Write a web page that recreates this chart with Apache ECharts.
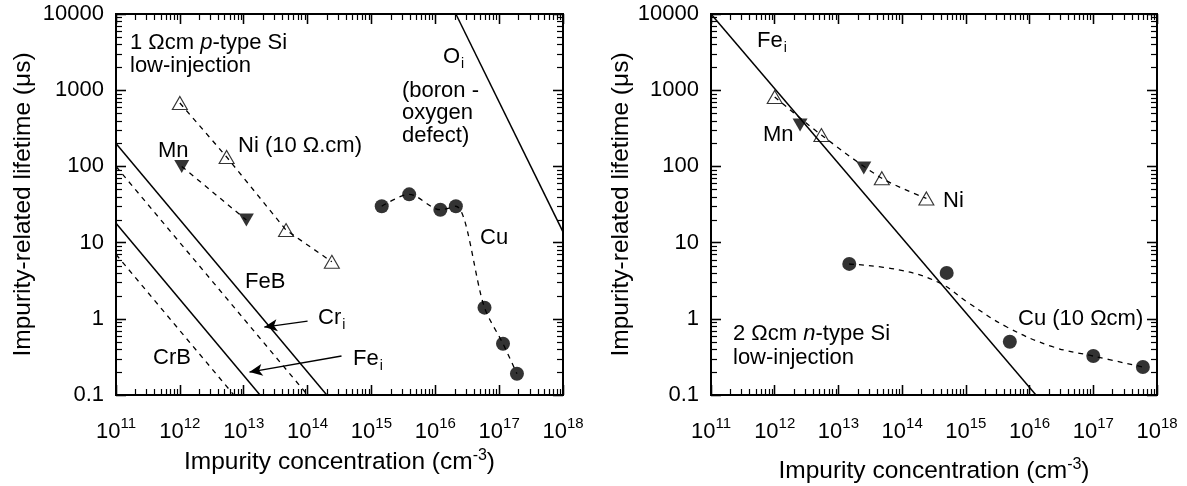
<!DOCTYPE html>
<html><head><meta charset="utf-8">
<script src="https://cdn.jsdelivr.net/npm/echarts@6/dist/echarts.min.js"></script>
<style>html,body{margin:0;padding:0;background:#fff}.c{position:absolute;left:0;top:0;width:1187px;height:486px}</style>
</head><body><div class="c" id="c"></div><div class="c" id="t"></div>
<script>
// ---------- data ----------
const xTickExponents = [11, 12, 13, 14, 15, 16, 17, 18];
const yTickLabels = ['0.1', '1', '10', '100', '1000', '10000'];

// left panel: 1 Ωcm p-type Si
const pNi = [[1e12, 680], [5.4e12, 133], [4.6e13, 14.6], [2.4e14, 5.6]];
const pMn = [[1.07e12, 100], [1.1e13, 19.8]];
const pCu = [[1.45e15, 30], [3.9e15, 43], [1.2e16, 27], [2.1e16, 30], [5.9e16, 1.4], [1.15e17, 0.47], [1.9e17, 0.19]];
const pFeB = [[1e11, 200], [2e14, 0.1]];
const pCri = [[1e11, 100], [1e14, 0.1]];
const pFei = [[1e11, 18], [1.8e13, 0.1]];
const pCrB = [[1e11, 7], [7e12, 0.1]];
const pOi = [[2.1e16, 10000], [1e18, 13.8]];

// right panel: 2 Ωcm n-type Si
const nFei = [[1e11, 10000], [1.26e16, 0.1]];
const nNi = [[1e12, 815], [5.4e12, 258], [4.8e13, 70], [2.4e14, 38]];
const nMn = [[2.5e12, 350], [2.5e13, 95]];
const nCu = [[1.48e13, 5.25], [5e14, 4.0], [4.9e15, 0.5], [1e17, 0.325], [6e17, 0.233]];
const nCuFit = [[1.47e13, 5.24], [9.3e13, 4.36], [3.9e14, 2.95], [1.05e15, 1.66], [4.4e15, 0.78], [2.3e16, 0.43], [9.9e16, 0.325], [6.05e17, 0.233]];

// annotation arrows (data coords)
const arrowCri = [[1e14, 0.935], [2.1e13, 0.78]];
const arrowFei = [[3.4e14, 0.325], [1.23e13, 0.2]];

// ---------- helpers ----------
const FONT = '"Liberation Sans", Arial, Helvetica, sans-serif';
const GRIDS = () => [
  { left: 116, top: 14, width: 447, height: 381, outerBoundsMode: 'none', containLabel: false },
  { left: 711, top: 14, width: 446, height: 381, outerBoundsMode: 'none', containLabel: false }
];
function makeMinor() {
  const arr = [];
  for (let d = xTickExponents[0]; d < xTickExponents[xTickExponents.length - 1]; d++)
    for (let m = 2; m <= 9; m++) arr.push([m * Math.pow(10, d), 1, 0]);
  for (let d = -1; d < 4; d++)
    for (let m = 2; m <= 9; m++) arr.push([1e12, m * Math.pow(10, d), 1]);
  return arr;
}
function renderMinor(params, api) {
  const cs = params.coordSys;
  const kind = api.value(2);
  const L = 6;
  if (kind === 0) {
    const p = api.coord([api.value(0), 1]);
    const x = Math.round(p[0]) + 0.5;
    return { type: 'group', children: [
      { type: 'line', shape: { x1: x, y1: cs.y + cs.height, x2: x, y2: cs.y + cs.height - L }, style: { stroke: '#000', lineWidth: 1.2 } },
      { type: 'line', shape: { x1: x, y1: cs.y, x2: x, y2: cs.y + L }, style: { stroke: '#000', lineWidth: 1.2 } }
    ] };
  } else {
    const p = api.coord([1e12, api.value(1)]);
    const y = Math.round(p[1]) + 0.5;
    return { type: 'group', children: [
      { type: 'line', shape: { x1: cs.x, y1: y, x2: cs.x + L, y2: y }, style: { stroke: '#000', lineWidth: 1.2 } },
      { type: 'line', shape: { x1: cs.x + cs.width, y1: y, x2: cs.x + cs.width - L, y2: y }, style: { stroke: '#000', lineWidth: 1.2 } }
    ] };
  }
}
const axLine = () => ({ show: true, lineStyle: { color: '#000', width: 2 } });
const axTick = () => ({ show: true, inside: true, length: 10, lineStyle: { color: '#000', width: 1.3 } });

// ---------- main chart: labels, names, data ----------
function xAxesFor(gi, nameGap) {
  return [
    { type: 'log', logBase: 10, min: 1e11, max: 1e18, gridIndex: gi, position: 'bottom',
      splitLine: { show: false }, axisLine: axLine(), axisTick: axTick(),
      axisLabel: { margin: 21,
        formatter: v => '{b|10}{s|' + xTickExponents[Math.round(Math.log10(v)) - 11] + '}',
        rich: { b: { fontSize: 22, fontFamily: FONT, color: '#000' },
                s: { fontSize: 15, fontFamily: FONT, color: '#000', padding: [0, 0, 17, 0] } } },
      name: 'Impurity concentration (cm{sup|-3})', nameLocation: 'middle', nameGap,
      nameTextStyle: { fontSize: 24.5, fontFamily: FONT, color: '#000',
        rich: { sup: { fontSize: 16, fontFamily: FONT, color: '#000', padding: [0, 0, 12, 0] } } } },
    { type: 'log', logBase: 10, min: 1e11, max: 1e18, gridIndex: gi, position: 'top',
      splitLine: { show: false }, axisLine: axLine(), axisTick: axTick(), axisLabel: { show: false } }
  ];
}
function yAxesFor(gi, nameGap) {
  return [
    { type: 'log', logBase: 10, min: 0.1, max: 10000, gridIndex: gi, position: 'left',
      splitLine: { show: false }, axisLine: axLine(), axisTick: axTick(),
      axisLabel: { margin: 12, fontSize: 22, fontFamily: FONT, color: '#000',
        formatter: v => yTickLabels[Math.round(Math.log10(v)) + 1] },
      name: 'Impurity-related lifetime (\u03bcs)', nameLocation: 'middle', nameGap,
      nameTextStyle: { fontSize: 24.5, fontFamily: FONT, color: '#000' } },
    { type: 'log', logBase: 10, min: 0.1, max: 10000, gridIndex: gi, position: 'right',
      splitLine: { show: false }, axisLine: axLine(), axisTick: axTick(), axisLabel: { show: false } }
  ];
}
const solid = () => ({ color: '#000', width: 1.5, type: 'solid' });
const dashed = () => ({ color: '#000', width: 1.3, type: [5, 5] });
function lineS(data, gi, style, extra) {
  return Object.assign({ type: 'line', data, xAxisIndex: gi * 2, yAxisIndex: gi * 2,
    showSymbol: false, symbol: 'none', lineStyle: style, itemStyle: { color: '#000' } }, extra || {});
}
function markerS(data, gi, kind) {
  const base = { type: 'scatter', data, xAxisIndex: gi * 2, yAxisIndex: gi * 2 };
  if (kind === 'open') return Object.assign(base, { symbol: 'triangle', symbolSize: [15, 13],
    itemStyle: { color: '#fff', borderColor: '#000', borderWidth: 1.1 } });
  if (kind === 'down') return Object.assign(base, { symbol: 'triangle', symbolRotate: 180, symbolSize: [15, 13],
    itemStyle: { color: '#000' } });
  return Object.assign(base, { symbol: 'circle', symbolSize: 14, itemStyle: { color: '#000' } });
}
function arrowS(pts, gi) {
  return { type: 'line', data: [], xAxisIndex: gi * 2, yAxisIndex: gi * 2,
    markLine: { silent: true, animation: false, symbol: ['none', 'arrow'], symbolSize: [9, 13],
      label: { show: false }, lineStyle: { color: '#000', width: 1.3, type: 'solid' },
      data: [[{ coord: pts[0] }, { coord: pts[1] }]] } };
}
function txt(x, y, text, rich, extra) {
  return { type: 'text', x, y, silent: true,
    style: Object.assign({ text, fontSize: 22, fontFamily: FONT, fill: '#000', align: 'left', verticalAlign: 'middle',
      rich: rich || {} }, extra || {}) };
}
const itRich = { it: { fontStyle: 'italic', fontSize: 22, fontFamily: FONT } };
const subRich = { m: { fontSize: 22, fontFamily: FONT }, i: { fontSize: 14, fontFamily: FONT, padding: [14, 0, 0, 1] } };

const chart = echarts.init(document.getElementById('c'));
chart.setOption({
  animation: false,
  grid: GRIDS(),
  xAxis: [...xAxesFor(0, 53), ...xAxesFor(1, 62)],
  yAxis: [...yAxesFor(0, 80), ...yAxesFor(1, 76)],
  series: [
    lineS(pFeB, 0, solid()), lineS(pCri, 0, dashed()), lineS(pFei, 0, solid()), lineS(pCrB, 0, dashed()), lineS(pOi, 0, solid()),
    lineS(pNi, 0, dashed()), lineS(pMn, 0, dashed()), lineS(pCu, 0, dashed(), { smooth: 0.3 }),
    markerS(pNi, 0, 'open'), markerS(pMn, 0, 'down'), markerS(pCu, 0, 'circle'),
    arrowS(arrowCri, 0), arrowS(arrowFei, 0),
    lineS(nFei, 1, solid()), lineS(nNi, 1, dashed(), { smooth: 0.3 }), lineS(nCuFit, 1, dashed(), { smooth: 0.4 }),
    markerS(nNi, 1, 'open'), markerS(nMn, 1, 'down'), markerS(nCu, 1, 'circle')
  ],
  graphic: [
    txt(130, 43, '1 \u03a9cm {it|p}-type Si', itRich),
    txt(130, 66, 'low-injection'),
    txt(158, 151, 'Mn'),
    txt(238, 146, 'Ni (10 \u03a9.cm)'),
    txt(443, 57, '{m|O}{i|i}', subRich),
    txt(402, 113, '(boron -\noxygen\ndefect)', null, { lineHeight: 22.5 }),
    txt(245, 282, 'FeB'),
    txt(153, 358, 'CrB'),
    txt(318, 318, '{m|Cr}{i|i}', subRich),
    txt(353, 359, '{m|Fe}{i|i}', subRich),
    txt(480, 238, 'Cu'),
    txt(757, 41, '{m|Fe}{i|i}', subRich),
    txt(763, 135, 'Mn'),
    txt(943, 201, 'Ni'),
    txt(1018, 319, 'Cu (10 \u03a9cm)'),
    txt(733, 334, '2 \u03a9cm {it|n}-type Si', itRich),
    txt(733, 358, 'low-injection')
  ]
});

// ---------- overlay chart: frame, major & minor ticks ----------
function frameAxes(kind) {
  const out = [];
  for (let gi = 0; gi < 2; gi++) {
    ['a', 'b'].forEach((_, k) => {
      const o = { type: 'log', logBase: 10, gridIndex: gi, splitLine: { show: false },
        axisLine: axLine(), axisTick: axTick(), axisLabel: { show: false } };
      if (kind === 'x') Object.assign(o, { min: 1e11, max: 1e18, position: k ? 'top' : 'bottom' });
      else Object.assign(o, { min: 0.1, max: 10000, position: k ? 'right' : 'left' });
      out.push(o);
    });
  }
  return out;
}
const overlay = echarts.init(document.getElementById('t'));
overlay.setOption({
  animation: false,
  grid: GRIDS(),
  xAxis: frameAxes('x'),
  yAxis: frameAxes('y'),
  series: [
    { type: 'custom', data: makeMinor(), xAxisIndex: 0, yAxisIndex: 0, renderItem: renderMinor, clip: false },
    { type: 'custom', data: makeMinor(), xAxisIndex: 2, yAxisIndex: 2, renderItem: renderMinor, clip: false }
  ]
});
</script></body></html>
